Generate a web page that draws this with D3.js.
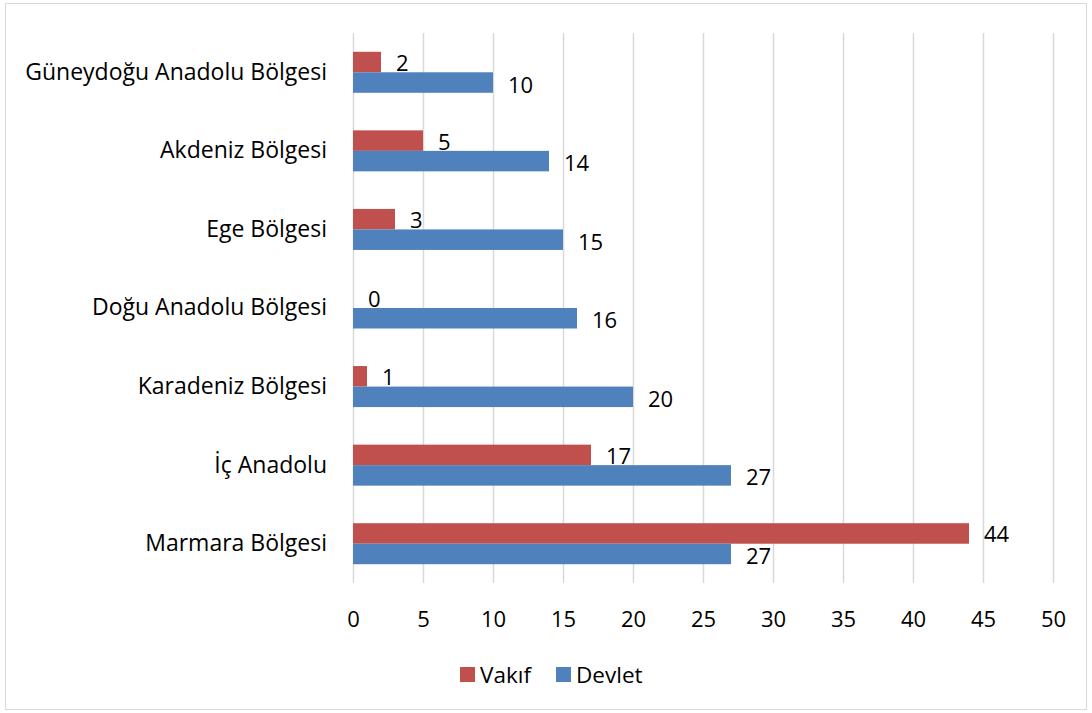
<!DOCTYPE html>
<html>
<head>
<meta charset="utf-8">
<script src="https://cdn.jsdelivr.net/npm/d3@7"></script>
<style>
  body { margin: 0; background: #fff; }
  text { font-family: "Open Sans", sans-serif; fill: #000; }
</style>
</head>
<body>
<div id="chart"></div>
<script>
// regions, top to bottom as drawn
let regions = ["Güneydoğu Anadolu Bölgesi", "Akdeniz Bölgesi", "Ege Bölgesi",
  "Doğu Anadolu Bölgesi", "Karadeniz Bölgesi", "İç Anadolu", "Marmara Bölgesi"];
let vakif = [2, 5, 3, 0, 1, 17, 44];
let devlet = [10, 14, 15, 16, 20, 27, 27];
let xTicks = [0, 5, 10, 15, 20, 25, 30, 35, 40, 45, 50];
let seriesNames = ["Vakıf", "Devlet"];
let seriesColors = ["#C0504D", "#4F81BD"];

let width = 1092, height = 713;
let margin = { top: 33, right: 39, bottom: 130, left: 353 };
let plotW = width - margin.left - margin.right;
let plotH = height - margin.top - margin.bottom;

let svg = d3.select("#chart").append("svg")
  .attr("width", width).attr("height", height);

// outer frame
svg.append("rect")
  .attr("x", 5.5).attr("y", 3.5)
  .attr("width", width - 11).attr("height", height - 7)
  .attr("fill", "#fff").attr("stroke", "#d9d9d9").attr("stroke-width", 1);

let g = svg.append("g").attr("transform", "translate(" + margin.left + "," + margin.top + ")");

let x = d3.scaleLinear().domain([0, 50]).range([0, plotW]);
let y = d3.scaleBand().domain(regions).range([0, plotH]);
let inner = d3.scaleBand().domain(seriesNames).range([0, 41]);

// gridlines
g.selectAll("line.grid").data(xTicks).enter().append("line")
  .attr("class", "grid")
  .attr("x1", d => Math.round(x(d)) + 0.5).attr("x2", d => Math.round(x(d)) + 0.5)
  .attr("y1", 0).attr("y2", plotH)
  .attr("stroke", "#d9d9d9").attr("stroke-width", 1.5);

// x axis tick labels
let xAxis = g.append("g").attr("transform", "translate(0," + plotH + ")")
  .call(d3.axisBottom(x).tickValues(xTicks).tickSize(0).tickPadding(28));
xAxis.select(".domain").remove();
xAxis.selectAll("text").style("font-size", "22px").attr("font-family", null);

// category labels
let yAxis = g.append("g")
  .call(d3.axisLeft(y).tickSize(0).tickPadding(26));
yAxis.select(".domain").remove();
yAxis.selectAll("text").style("font-size", "23px").attr("font-family", null);

let rows = regions.map((r, i) => ({ region: r, values: [vakif[i], devlet[i]] }));

let groups = g.selectAll("g.row").data(rows).enter().append("g")
  .attr("class", "row")
  .attr("transform", d => "translate(0," + (y(d.region) + y.bandwidth() / 2 - 20.5) + ")");

groups.selectAll("rect").data(d => d.values.map((v, j) => ({ v: v, s: seriesNames[j], c: seriesColors[j] })))
  .enter().append("rect")
  .attr("x", 0)
  .attr("y", d => inner(d.s))
  .attr("width", d => x(d.v))
  .attr("height", inner.bandwidth())
  .attr("fill", d => d.c);

groups.selectAll("text.val").data(d => d.values.map((v, j) => ({ v: v, s: seriesNames[j] })))
  .enter().append("text")
  .attr("class", "val")
  .attr("x", d => x(d.v) + 15)
  .attr("y", d => inner(d.s) + inner.bandwidth() / 2 + (d.s === "Devlet" ? 2.3 : 1.3))
  .attr("dy", "0.35em")
  .style("font-size", "22px")
  .text(d => d.v);

// legend
let legend = svg.append("g").attr("transform", "translate(460,667)");
let legendX = [0, 96];
seriesNames.forEach((s, i) => {
  legend.append("rect").attr("x", legendX[i]).attr("y", 0)
    .attr("width", 15).attr("height", 15).attr("fill", seriesColors[i]);
  legend.append("text").attr("x", legendX[i] + 20).attr("y", 15.5)
    .style("font-size", "22.5px").text(s);
});
</script>
</body>
</html>
